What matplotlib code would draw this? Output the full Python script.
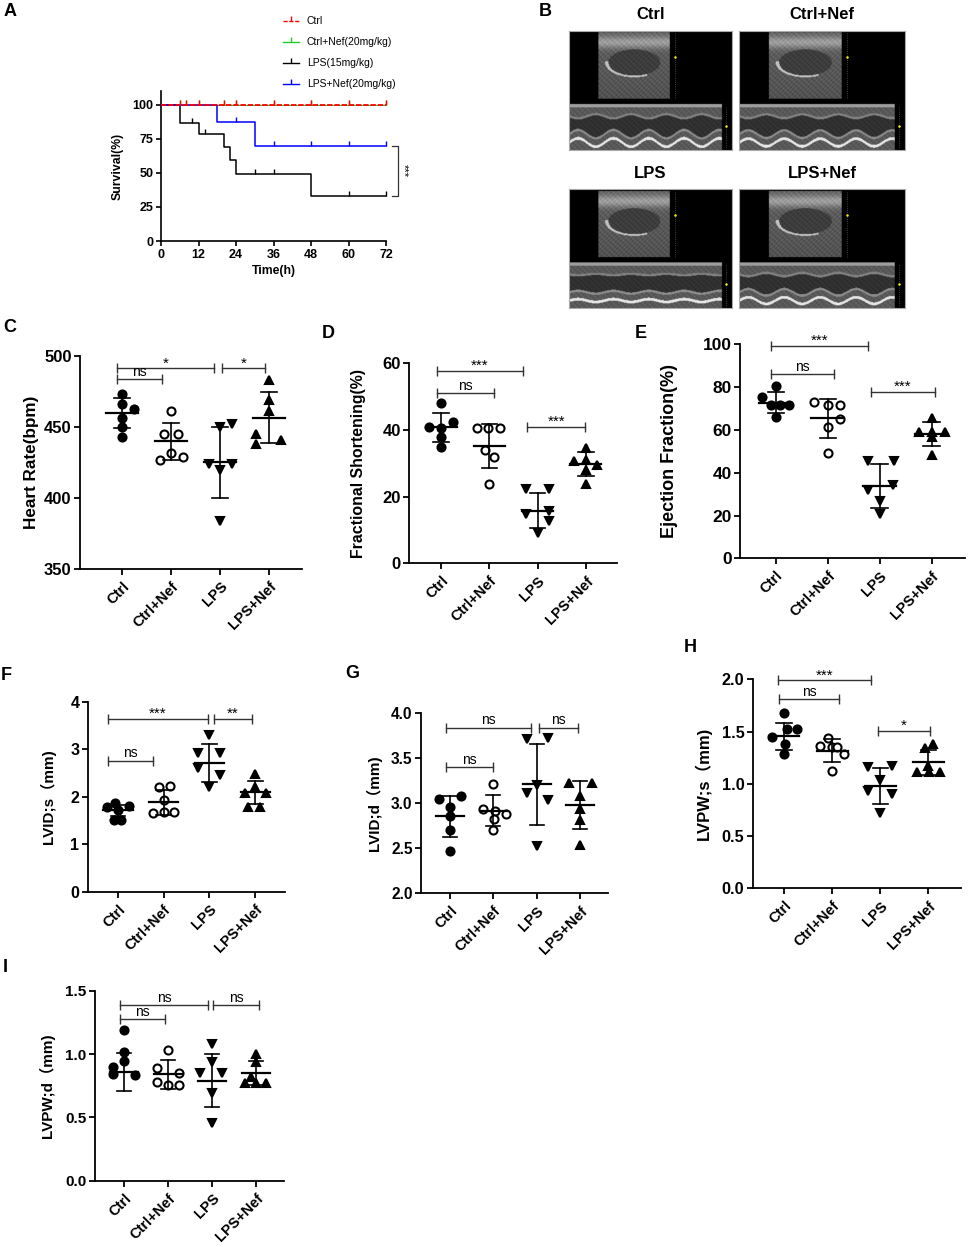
import numpy as np
import matplotlib.pyplot as plt

plt.rcParams['font.family'] = ['Liberation Sans', 'Noto Sans CJK SC', 'DejaVu Sans']

W, H = 969, 1247
fig = plt.figure(figsize=(W / 100, H / 100), dpi=100)

groups = ['Ctrl', 'Ctrl+Nef', 'LPS', 'LPS+Nef']

# ---- A: survival ----
surv_ticks = [0, 12, 24, 36, 48, 60, 72]
surv_yticks = [0, 25, 50, 75, 100]
surv_labels = ['Ctrl', 'Ctrl+Nef(20mg/kg)', 'LPS(15mg/kg)', 'LPS+Nef(20mg/kg)']
surv_colors = ['#ff0000', '#22cc22', '#000000', '#0000ff']
surv_t = [[0, 72], [0, 72], [0, 6, 12, 20, 22, 24, 48, 72], [0, 18, 30, 72]]
surv_s = [[100, 100], [100, 100],
          [100, 86.7, 78.3, 69.1, 59.2, 49.4, 33.0, 33.0],
          [100, 87.1, 69.8, 69.8]]
surv_cens = [[6, 8, 12, 20, 24, 36, 48, 60, 72], [6, 8, 12, 20, 24, 36, 48, 60, 72],
             [10, 14, 30, 36, 60, 72], [24, 36, 48, 60, 72]]

# ---- C: heart rate ----
hr_vals = [[473, 466, 463, 456, 450, 443], [461, 445, 445, 431.5, 427, 429],
           [450, 452, 424, 420, 424, 384], [483, 469, 461, 445, 438, 441]]
hr_offs = [[0, 0, 0.25, 0, 0, 0], [0, -0.15, 0.14, 0, -0.23, 0.24],
           [0, 0.25, -0.22, 0, 0.25, 0], [0, 0, 0, -0.26, -0.26, 0.25]]
hr_mean = [460, 440, 425, 456.5]
hr_sd = [10.5, 13, 25, 17.8]

# ---- D: fractional shortening ----
fs_vals = [[48, 41, 40.5, 42.5, 38, 35], [40.5, 40.5, 40.5, 34, 32, 23.8],
           [22.3, 22.3, 14.8, 15.8, 12.8, 9.2], [34.7, 30.8, 31, 29.5, 28, 23.8]]
fs_offs = [[0, -0.26, 0, 0.24, 0, 0], [-0.26, -0.02, 0.22, -0.1, 0.1, 0],
           [-0.24, 0.23, -0.24, 0.23, 0.23, 0], [0, -0.25, 0, 0.23, 0, 0]]
fs_mean = [40.8, 35.2, 15.8, 29.8]
fs_sd = [4.4, 6.7, 5.3, 3.5]

# ---- E: ejection fraction ----
ef_vals = [[80.7, 75.2, 71.6, 71.6, 71.6, 65.9], [73.2, 71.6, 71.6, 64.9, 61.5, 49.4],
           [45.6, 45.6, 31.9, 34.2, 26.9, 20.7], [65.7, 58.9, 58.9, 58.9, 56.5, 48.3]]
ef_offs = [[0, -0.26, -0.1, 0.25, 0.08, 0], [-0.26, 0, 0.24, 0.24, 0, 0],
           [-0.23, 0.27, -0.23, 0.26, 0, 0], [0, -0.24, 0, 0.26, 0.01, 0]]
ef_mean = [72.7, 65.4, 33.8, 58.1]
ef_sd = [4.8, 9.0, 10.1, 5.4]

# ---- F: LVID;s ----
lvids_vals = [[1.86, 1.79, 1.81, 1.72, 1.51, 1.52], [2.21, 2.23, 1.93, 1.65, 1.67, 1.68],
              [3.30, 2.91, 2.91, 2.60, 2.46, 2.20], [2.47, 2.21, 2.07, 2.07, 1.79, 1.79]]
lvids_offs = [[-0.07, -0.24, 0.25, 0, -0.09, 0.07], [-0.11, 0.13, 0, -0.23, 0, 0.23],
              [0, -0.24, 0.23, -0.24, 0.23, 0], [0, 0, -0.23, 0.23, -0.15, 0.11]]
lvids_mean = [1.71, 1.88, 2.70, 2.09]
lvids_sd = [0.12, 0.27, 0.40, 0.245]

# ---- G: LVID;d ----
lvidd_vals = [[3.05, 3.085, 2.955, 2.86, 2.70, 2.47], [3.215, 2.94, 2.92, 2.88, 2.83, 2.70],
              [3.72, 3.73, 3.20, 3.12, 3.04, 2.53], [3.23, 3.23, 3.08, 2.94, 2.81, 2.54]]
lvidd_offs = [[-0.25, 0.25, 0, 0, 0, 0], [0, -0.23, 0.03, 0.28, 0.02, 0],
              [-0.23, 0.27, 0, -0.23, 0.27, 0], [-0.25, 0.27, 0, 0, 0, 0]]
lvidd_mean = [2.855, 2.92, 3.21, 2.98]
lvidd_sd = [0.23, 0.17, 0.45, 0.27]

# ---- H: LVPW;s ----
lvpws_vals = [[1.675, 1.52, 1.52, 1.45, 1.38, 1.285], [1.44, 1.36, 1.35, 1.35, 1.285, 1.12],
              [1.158, 1.17, 1.036, 0.934, 0.90, 0.718], [1.38, 1.34, 1.11, 1.11, 1.11, 1.17]]
lvpws_offs = [[0, 0.07, 0.26, -0.24, 0.02, 0], [-0.09, -0.26, 0.0, 0.1, 0.24, 0],
              [-0.26, 0.25, 0, -0.26, 0.25, 0], [0.09, -0.07, -0.24, 0.02, 0.23, -0.01]]
lvpws_mean = [1.454, 1.317, 0.979, 1.206]
lvpws_sd = [0.13, 0.11, 0.172, 0.12]

# ---- I: LVPW;d ----
lvpwd_vals = [[1.19, 1.018, 0.945, 0.895, 0.84, 0.834], [1.03, 0.887, 0.848, 0.777, 0.755, 0.755],
              [1.077, 0.934, 0.848, 0.848, 0.69, 0.453], [1.0, 0.934, 0.82, 0.77, 0.77, 0.77]]
lvpwd_offs = [[0, 0, 0, -0.25, -0.25, 0.25], [0, -0.25, 0.24, -0.25, 0, 0.24],
              [0, 0, -0.27, 0.23, 0, 0], [0, 0, -0.12, -0.25, 0, 0.24]]
lvpwd_mean = [0.857, 0.84, 0.79, 0.848]
lvpwd_sd = [0.148, 0.115, 0.21, 0.095]

markers = ['o', 'o', 'v', '^']
faces = ['black', 'white', 'black', 'black']


def add_ax(l, r, t, b):
    return fig.add_axes([l / W, 1 - b / H, (r - l) / W, (b - t) / H])


def style(ax, lw=1.3):
    for s in ['top', 'right']:
        ax.spines[s].set_visible(False)
    for s in ['left', 'bottom']:
        ax.spines[s].set_linewidth(lw)
    ax.tick_params(direction='out', length=4.5, width=lw)


# overlay in pixel coordinates for letters and free text
ov = fig.add_axes([0, 0, 1, 1], zorder=-1)
ov.set_xlim(0, W)
ov.set_ylim(H, 0)
ov.axis('off')

for letter, x, y in [('A', 10, 12), ('B', 545, 11), ('C', 10, 327), ('D', 328, 333),
                     ('E', 641, 334), ('F', 6, 675), ('G', 352, 673), ('H', 690, 647),
                     ('I', 5, 967)]:
    ov.text(x, y, letter, fontsize=13, fontweight='bold', ha='center', va='center')

# ---------- A ----------
ax = add_ax(161, 386, 91, 241)
for t, s, c, cens, i in zip(surv_t, surv_s, surv_colors, surv_cens, range(4)):
    ls = (0, (3, 1.0)) if i == 0 else '-'
    lw = 0.7 if i == 1 else (1.3 if i == 0 else 1.1)
    ax.step(t, s, where='post', color=c, lw=lw, ls=ls, clip_on=False, zorder=3 + (i == 0))
    idx = np.searchsorted(t, cens, side='right') - 1
    ax.plot(cens, np.array(s)[idx], ls='none', marker=2, ms=3.5, mew=1.0, color=c,
            clip_on=False, zorder=3 + (i == 0))
ax.set_xlim(0, 72)
ax.set_ylim(0, 110)
ax.set_xticks(surv_ticks)
ax.set_yticks(surv_yticks)
style(ax, 1.2)
ax.tick_params(labelsize=9, length=3.5, pad=2)
for lab in ax.get_xticklabels() + ax.get_yticklabels():
    lab.set_fontweight('bold')
ax.set_xlabel('Time(h)', fontsize=8.8, fontweight='bold', labelpad=3)
ax.set_ylabel('Survival(%)', fontsize=8.8, fontweight='bold', va='center')
ax.yaxis.set_label_coords((118 - 161) / 225, 0.5)
# log-rank bracket
ax.plot([74.0, 75.8, 75.8, 74.0], [69.8, 69.8, 33.0, 33.0], color='#333333', lw=0.9, clip_on=False)
ax.text(77.8, 51.5, '***', rotation=270, fontsize=8, ha='center', va='center')

# legend
for i, (lab, c) in enumerate(zip(surv_labels, surv_colors)):
    y = 20.7 + i * 21.2
    ov.plot([283, 299], [y, y], color=c, lw=1.0, ls=(0, (3, 1.2)) if i == 0 else '-')
    ov.plot([291], [y], marker=2, ms=3.5, mew=1.0, color=c)
    ov.text(307, y, lab, fontsize=7.5, va='center', ha='left')


# ---------- B: echo images ----------
def echo(ax, amp):
    y = np.linspace(0, 1, 180)[:, None]
    x = np.linspace(0, 1, 244)[None, :]
    grain = 0.5 + 0.5 * np.sin(x * 211 + y * 23) * np.sin(y * 157 + x * 37)
    img = np.zeros((180, 244))
    bm = (x > 0.18) & (x < 0.62) & (y > 0.015) & (y < 0.57)
    bval = 0.32 + 0.12 * grain + 0.25 * np.exp(-((y - 0.1) / 0.05) ** 2) - 0.1 * y
    e = ((x - 0.4) / 0.16) ** 2 + ((y - 0.27) / 0.11) ** 2
    bval = np.where(e < 1, 0.2 + 0.08 * grain, bval)
    bval = np.where((np.abs(e - 1.12) < 0.14) & (y > 0.26) & (x < 0.48), 0.75, bval)
    img = np.where(bm, bval, img)
    mm = (y > 0.615) & (x < 0.94)
    t = x * 2 * np.pi * 4.6
    wall1 = 0.72 + amp * 0.5 * np.sin(t)
    wall2 = 0.87 - amp * np.sin(t)
    mval = 0.3 + 0.1 * grain
    mval = np.where(y < 0.645, 0.62, mval)
    mval = np.where((y > wall1) & (y < wall2), 0.16 + 0.06 * grain, mval)
    mval = np.where(np.abs(y - wall1) < 0.01, 0.5, mval)
    mval = np.where(np.abs(y - wall2) < 0.01, 0.55, mval)
    mval = np.where(np.abs(y - (wall2 + 0.07)) < 0.012, 0.9, mval)
    img = np.where(mm, mval, img)
    ax.imshow(img, cmap='gray', vmin=0, vmax=1, aspect='auto', extent=(0, 1, 1, 0),
              interpolation='bilinear')
    ax.plot([0.65, 0.65], [0.02, 0.57], color='#555555', lw=0.6, ls=':')
    ax.plot([0.65], [0.22], marker='o', ms=1.8, color='#ffee00', mec='none')
    ax.plot([0.962, 0.962], [0.64, 0.99], color='#555555', lw=0.6, ls=':')
    ax.plot([0.962], [0.8], marker='o', ms=1.8, color='#ffee00', mec='none')
    ax.set_xlim(0, 1)
    ax.set_ylim(1, 0)
    ax.set_xticks([])
    ax.set_yticks([])
    for s in ax.spines.values():
        s.set_color('#aaaaaa')
        s.set_linewidth(0.8)


echo_boxes = [(569, 731.7, 30.7, 150), (739.3, 905, 30.7, 150),
              (569, 731.7, 189.3, 308.3), (739.3, 905, 189.3, 308.3)]
echo_amp = [0.035, 0.032, 0.012, 0.028]
for name, box, amp in zip(groups, echo_boxes, echo_amp):
    eax = add_ax(*box)
    echo(eax, amp)
    ov.text((box[0] + box[1]) / 2, box[2] - 16, name, fontsize=12, fontweight='bold',
            ha='center', va='center')


# ---------- dot plots ----------
def dot_panel(box, vals, offs, means, sds, ylim, yticks, ylabel, brackets, xlim,
              label_x, fmt='{:g}', tick_fs=11.5, label_fs=11.5):
    l, r, t, b = box
    ax = add_ax(l, r, t, b)
    for i in range(4):
        xs = i + np.array(offs[i])
        ax.plot(xs, vals[i], ls='none', marker=markers[i], ms=5.8 if i < 2 else 6.4,
                mfc=faces[i], mec='black', mew=1.5, zorder=2, clip_on=False)
        m, s = means[i], sds[i]
        ax.plot([i - 0.32, i + 0.32], [m, m], color='black', lw=1.6, zorder=3)
        ax.plot([i, i], [m - s, m + s], color='black', lw=1.2, zorder=3)
        ax.plot([i - 0.16, i + 0.16], [m + s, m + s], color='black', lw=1.2, zorder=3)
        ax.plot([i - 0.16, i + 0.16], [m - s, m - s], color='black', lw=1.2, zorder=3)
    for x1, x2, y, txt in brackets:
        ax.plot([x1, x2], [y, y], color='#333333', lw=1.0, clip_on=False)
        ax.plot([x1, x2], [y, y], ls='none', marker='|', ms=7, mew=1.0, color='#333333',
                clip_on=False)
        star = txt.startswith('*')
        ax.annotate(txt, ((x1 + x2) / 2, y), xytext=(0, -1.5 if star else 0.3),
                    textcoords='offset points', ha='center', va='bottom',
                    fontsize=11 if star else 10)
    ax.set_xlim(xlim)
    ax.set_ylim(ylim)
    ax.set_yticks(yticks)
    ax.set_yticklabels([fmt.format(v) for v in yticks], fontsize=tick_fs, fontweight='bold')
    ax.set_xticks(range(4))
    ax.set_xticklabels(groups, rotation=45, ha='right', rotation_mode='anchor',
                       fontsize=10.5, fontweight='bold')
    style(ax)
    ax.tick_params(axis='x', pad=3)
    ax.tick_params(axis='y', pad=1.5)
    ax.set_ylabel(ylabel, fontsize=label_fs, fontweight='bold', va='center')
    ax.yaxis.set_label_coords((label_x - l) / (r - l), 0.5)
    return ax


dot_panel((80, 302, 356, 569), hr_vals, hr_offs, hr_mean, hr_sd, (350, 500),
          [350, 400, 450, 500], 'Heart Rate(bpm)',
          [(-0.11, 0.81, 483.8, 'ns'), (-0.11, 1.88, 491.3, '*'), (2.03, 2.92, 491.3, '*')],
          (-0.86, 3.67), 32, tick_fs=12, label_fs=12.3)

dot_panel((409.3, 616.7, 363.3, 563.3), fs_vals, fs_offs, fs_mean, fs_sd, (0, 60),
          [0, 20, 40, 60], 'Fractional Shortening(%)',
          [(-0.08, 1.69, 57.7, '***'), (-0.08, 1.1, 51, 'ns'), (1.79, 2.99, 41, '***')],
          (-0.66, 3.64), 358, tick_fs=12, label_fs=11.4)

dot_panel((740, 965, 344.3, 558.3), ef_vals, ef_offs, ef_mean, ef_sd, (0, 100),
          [0, 20, 40, 60, 80, 100], 'Ejection Fraction(%)',
          [(-0.1, 1.78, 99.2, '***'), (-0.1, 1.12, 86, 'ns'), (1.83, 3.06, 77.9, '***')],
          (-0.69, 3.64), 670, tick_fs=12.5, label_fs=13)

dot_panel((87.7, 285, 701.7, 891.7), lvids_vals, lvids_offs, lvids_mean, lvids_sd, (0, 4),
          [0, 1, 2, 3, 4], 'LVID;s（mm)',
          [(-0.22, 1.96, 3.64, '***'), (2.09, 2.93, 3.64, '**'), (-0.22, 0.76, 2.76, 'ns')],
          (-0.66, 3.65), 48, tick_fs=11.5, label_fs=11)

dot_panel((421, 608.3, 713.3, 893.3), lvidd_vals, lvidd_offs, lvidd_mean, lvidd_sd, (2, 4),
          [2.0, 2.5, 3.0, 3.5, 4.0], 'LVID;d（mm)',
          [(-0.1, 1.86, 3.84, 'ns'), (2.06, 2.95, 3.84, 'ns'), (-0.1, 0.98, 3.40, 'ns')],
          (-0.67, 3.65), 374, fmt='{:.1f}', tick_fs=11.2, label_fs=11)

dot_panel((752.7, 960.7, 679.3, 888.3), lvpws_vals, lvpws_offs, lvpws_mean, lvpws_sd, (0, 2),
          [0.0, 0.5, 1.0, 1.5, 2.0], 'LVPW;s（mm)',
          [(-0.12, 1.8, 1.99, '***'), (-0.1, 1.15, 1.81, 'ns'), (1.95, 3.03, 1.51, '*')],
          (-0.65, 3.67), 703, fmt='{:.1f}', tick_fs=11.7, label_fs=12)

dot_panel((95, 284, 990.7, 1180.7), lvpwd_vals, lvpwd_offs, lvpwd_mean, lvpwd_sd, (0, 1.5),
          [0.0, 0.5, 1.0, 1.5], 'LVPW;d（mm)',
          [(-0.1, 1.92, 1.387, 'ns'), (2.02, 3.08, 1.387, 'ns'), (-0.1, 0.93, 1.274, 'ns')],
          (-0.66, 3.64), 47, fmt='{:.1f}', tick_fs=11, label_fs=11)

fig.savefig('out.png', dpi=100, facecolor='white')
